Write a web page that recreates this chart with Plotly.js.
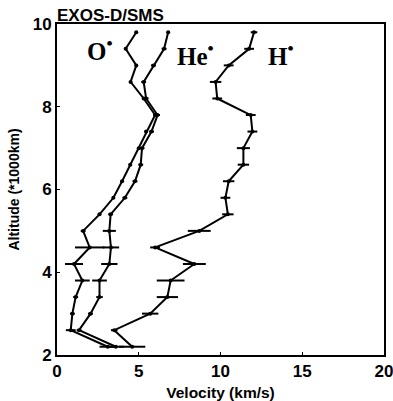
<!DOCTYPE html>
<html><head><meta charset="utf-8">
<script src="https://cdn.plot.ly/plotly-3.0.1.min.js"></script>
<style>html,body{margin:0;padding:0;background:#fff;}#chart{width:393px;height:401px;}</style>
</head><body><div id="chart"></div>
<script>
// Altitude levels (*1000 km)
const altitude = [2.2, 2.6, 3.0, 3.4, 3.8, 4.2, 4.6, 5.0, 5.4, 5.8, 6.2, 6.6, 7.0, 7.4, 7.8, 8.2, 8.6, 9.0, 9.4, 9.8];
// O+ velocity (km/s) and error
const oVel = [3.1, 0.84, 0.94, 1.14, 1.55, 1.04, 2.0, 1.6, 2.6, 3.45, 3.98, 4.48, 5.0, 5.45, 6.0, 5.3, 4.5, 4.85, 4.2, 4.85];
const oErr = [0.5, 0.3, 0.15, 0.15, 0.45, 0.55, 0.9, 0.15, 0.1, 0.1, 0.1, 0.1, 0.1, 0.1, 0.1, 0.1, 0.1, 0.1, 0.1, 0.1];
// He+ velocity (km/s) and error
const heVel = [3.6, 1.35, 2.05, 2.6, 2.6, 3.2, 3.3, 3.2, 3.28, 4.15, 4.77, 5.12, 5.2, 5.78, 6.15, 5.45, 5.3, 5.9, 6.55, 6.8];
const heErr = [0.5, 0.15, 0.15, 0.2, 0.45, 0.5, 0.5, 0.4, 0.15, 0.15, 0.15, 0.15, 0.15, 0.15, 0.15, 0.15, 0.15, 0.15, 0.15, 0.1];
// H+ velocity (km/s) and error
const hVel = [4.6, 3.5, 5.7, 6.75, 6.95, 8.4, 6.0, 8.7, 10.45, 10.3, 10.5, 11.4, 11.4, 11.95, 11.85, 9.8, 9.7, 10.5, 11.75, 12.05];
const hErr = [0.8, 0.2, 0.5, 0.65, 0.85, 0.7, 0.3, 0.7, 0.35, 0.3, 0.35, 0.35, 0.4, 0.3, 0.3, 0.3, 0.35, 0.3, 0.3, 0.2];

const xTicks = [0, 5, 10, 15, 20];
const yTicks = [2, 4, 6, 8, 10];

function series(x, err, name) {
  return {
    x: x, y: altitude, name: name, type: 'scatter', mode: 'lines+markers',
    line: {color: '#000', width: 2},
    marker: {color: '#000', size: 4},
    error_x: {type: 'data', array: err, visible: true, color: '#000', thickness: 2, width: 0},
    showlegend: false
  };
}

const data = [series(oVel, oErr, 'O+'), series(heVel, heErr, 'He+'), series(hVel, hErr, 'H+')];

const sans = 'Liberation Sans, Arial, sans-serif';
const serif = 'Liberation Serif, Times New Roman, serif';

const layout = {
  width: 393, height: 401,
  margin: {l: 57, r: 9, t: 24, b: 46},
  paper_bgcolor: '#fff', plot_bgcolor: '#fff',
  xaxis: {
    range: [0, 20], tickvals: xTicks, ticktext: xTicks.map(String),
    ticklabeloverflow: 'allow',
    showgrid: false, zeroline: false, showline: true, mirror: true, linecolor: '#000', linewidth: 2,
    ticks: 'inside', ticklen: 3, tickwidth: 1, tickcolor: '#000',
    tickfont: {family: sans, size: 17, color: '#000', weight: 'bold'},
    title: {text: '<b>Velocity (km/s)</b>', font: {family: sans, size: 15.5, color: '#000'}, standoff: 7}
  },
  yaxis: {
    range: [2, 10], tickvals: yTicks, ticktext: yTicks.map(String),
    showgrid: false, zeroline: false, showline: true, mirror: true, linecolor: '#000', linewidth: 2,
    ticks: 'inside', ticklen: 3, tickwidth: 1, tickcolor: '#000',
    tickfont: {family: sans, size: 17, color: '#000', weight: 'bold'},
    title: {text: '<b>Altitude (*1000km)</b>', font: {family: sans, size: 14, color: '#000'}, standoff: 10}
  },
  annotations: [
    {text: '<b>EXOS-D/SMS</b>', xref: 'paper', yref: 'paper', x: -0.005, y: 1.026, xanchor: 'left', yanchor: 'middle',
     showarrow: false, font: {family: sans, size: 17, color: '#000'}},
    {text: '<b>O<sup>•</sup></b>', xref: 'x', yref: 'y', x: 2.6, y: 9.4, showarrow: false,
     font: {family: serif, size: 25, color: '#000'}},
    {text: '<b>He<sup>•</sup></b>', xref: 'x', yref: 'y', x: 8.5, y: 9.28, showarrow: false,
     font: {family: serif, size: 25, color: '#000'}},
    {text: '<b>H<sup>•</sup></b>', xref: 'x', yref: 'y', x: 13.7, y: 9.28, showarrow: false,
     font: {family: serif, size: 25, color: '#000'}}
  ]
};

Plotly.newPlot('chart', data, layout, {displayModeBar: false, staticPlot: true});
</script>
</body></html>
